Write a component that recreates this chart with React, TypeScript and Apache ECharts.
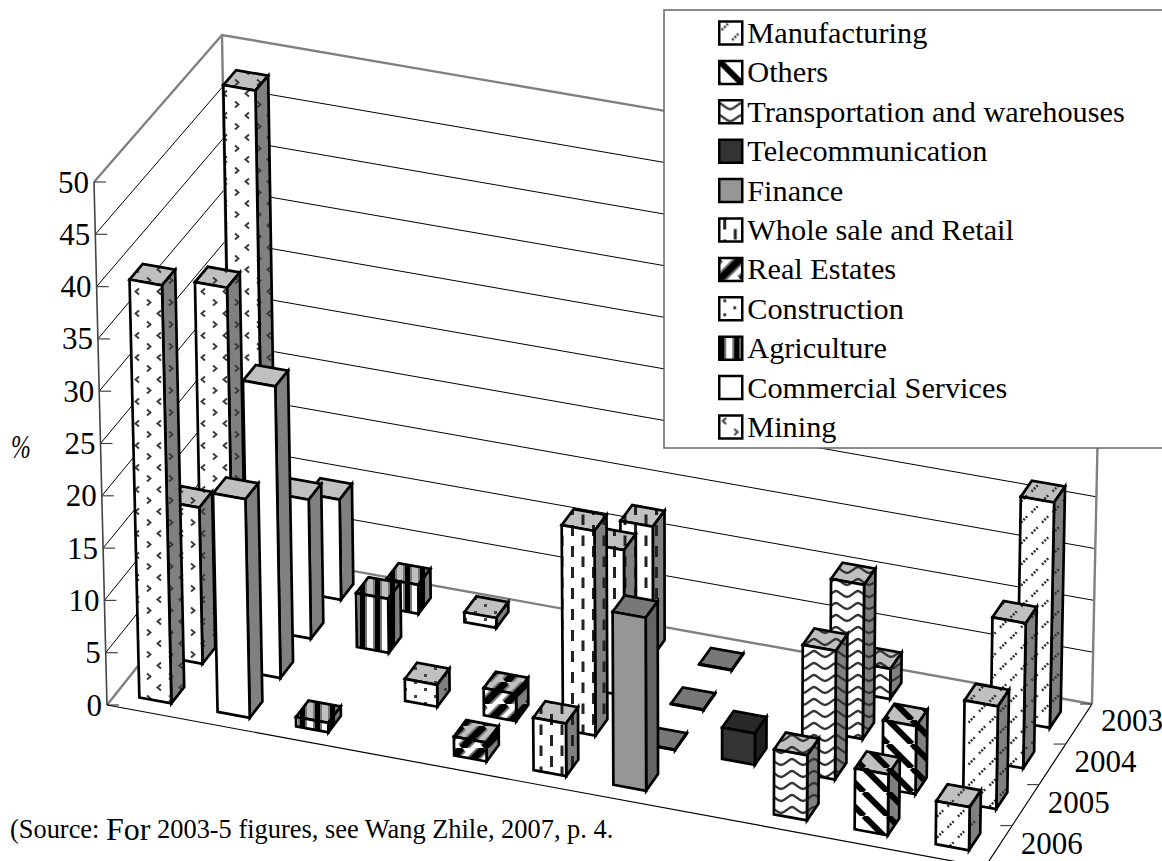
import React, { useEffect, useRef } from "react";
import * as echarts from "echarts";

const categories = ["Mining", "Commercial Services", "Agriculture", "Construction", "Real Estates", "Whole sale and Retail", "Finance", "Telecommunication", "Transportation and warehouses", "Others", "Manufacturing"];
const legendOrder = [...categories].reverse();
const years = ["2003", "2004", "2005", "2006"];
const yTicks = [0, 5, 10, 15, 20, 25, 30, 35, 40, 45, 50];

// values per year: 2003, 2004, 2005, 2006
const mining = [48, 32.5, 15, 40];
const commercial = [9.7, 13.4, 28, 20.9];
const agriculture = [2.8, 5.2, null, 0.9];
const construction = [0.95, null, 2.1, null];
const realEstates = [null, null, 2.6, 1.8];
const wholesale = [12.5, 14, 19.6, 5];
const finance = [0.05, 0.05, 0.05, 16.5];
const telecom = [null, null, 3, null];
const transportation = [2.9, 14.8, 12.3, 6.2];
const others = [null, null, 6.5, 5.8];
const manufacturing = [21.7, 13.9, 9.8, 4.1];
const seriesValues = [mining, commercial, agriculture, construction, realEstates, wholesale, finance, telecom, transportation, others, manufacturing];

const GRID = { left: 0, top: 0, width: 1000, height: 500 };
const FLOOR = [[107, 705], [985, 867], [1092, 704], [231, 549]];
const CEIL = [[94, 182], [993, 341], [1103, 186], [222, 35]];
const BAR_W = 0.41;

function homography(q: number[][]) {
  const [[x0, y0], [x1, y1], [x2, y2], [x3, y3]] = q;
  const dx1 = x1 - x2, dx2 = x3 - x2, sx = x0 - x1 + x2 - x3;
  const dy1 = y1 - y2, dy2 = y3 - y2, sy = y0 - y1 + y2 - y3;
  const den = dx1 * dy2 - dx2 * dy1;
  const g = (sx * dy2 - dx2 * sy) / den;
  const h = (dx1 * sy - sx * dy1) / den;
  const a = x1 - x0 + g * x1, b = x3 - x0 + h * x3;
  const d = y1 - y0 + g * y1, e = y3 - y0 + h * y3;
  return (u: number, v: number) => {
    const w = g * u + h * v + 1;
    return [(a * u + b * v + x0) / w, (d * u + e * v + y0) / w];
  };
}
const floorAt = homography(FLOOR);
const ceilAt = homography(CEIL);

// x = category position, val = percentage: both go through the chart's hidden axes
function project(api: any, x: number, val: number, v: number) {
  const c = api.coord([x, val]);
  const u = (c[0] - GRID.left) / GRID.width;
  const h = (GRID.top + GRID.height - c[1]) / GRID.height;
  const f = floorAt(u, v), t = ceilAt(u, v);
  return [f[0] + (t[0] - f[0]) * h, f[1] + (t[1] - f[1]) * h];
}

type Draw = (c: CanvasRenderingContext2D) => void;
function tile(w: number, h: number, bg: string, draw?: Draw) {
  const cv = document.createElement("canvas");
  cv.width = w; cv.height = h;
  const c = cv.getContext("2d")!;
  c.fillStyle = bg; c.fillRect(0, 0, w, h);
  if (draw) draw(c);
  return { image: cv, repeat: "repeat", imageWidth: w, imageHeight: h } as any;
}
const line = (c: CanvasRenderingContext2D, pts: number[][], color: string, lw: number) => {
  c.strokeStyle = color; c.lineWidth = lw; c.beginPath();
  pts.forEach((p, i) => (i ? c.lineTo(p[0], p[1]) : c.moveTo(p[0], p[1])));
  c.stroke();
};

const FRONT = "#ffffff", TOP = "#c0c0c0", SIDE = "#808080";
const drawMining: Draw = (c) => {
  line(c, [[7, 2.5], [3.5, 5.5], [7, 8.5]], "#3a3a3a", 1.9);
  line(c, [[15, 13.5], [18.5, 16.5], [15, 19.5]], "#3a3a3a", 1.9);
};
const drawAgri: Draw = (c) => {
  c.fillStyle = "#000"; c.fillRect(0, 0, 5, 15);
  c.fillStyle = "#777"; c.fillRect(5, 0, 2, 15); c.fillRect(13, 0, 2, 15);
};
const drawConstruction: Draw = (c) => {
  c.fillStyle = "#444";
  c.fillRect(4, 2, 3, 3); c.fillRect(14, 9, 3, 3);
};
const drawEstate: Draw = (c) => {
  for (const o of [-22, 0, 22]) {
    line(c, [[o, 22], [o + 22, 0]], "#777", 11);
  }
  for (const o of [-22, 0, 22]) {
    line(c, [[o, 22], [o + 22, 0]], "#000", 7);
  }
};
const drawWhole: Draw = (c) => {
  c.fillStyle = "#222";
  c.fillRect(4, 0, 3, 11); c.fillRect(14.5, 10.5, 3, 10.5);
};
const drawWave: Draw = (c) => {
  c.strokeStyle = "#333"; c.lineWidth = 2.4; c.beginPath();
  c.moveTo(0, 3); c.bezierCurveTo(3, 3, 7, 9, 11, 9); c.bezierCurveTo(15, 9, 19, 3, 22, 3);
  c.stroke();
};
const drawOthers: Draw = (c) => {
  for (const o of [-24, 0, 24]) line(c, [[o, 0], [o + 24, 24]], "#000", 6);
};
const drawManu: Draw = (c) => {
  c.setLineDash([2, 1.4]);
  line(c, [[2.5, 8.5], [9, 2]], "#333", 2.5);
  line(c, [[13, 18.5], [19.5, 12]], "#333", 2.5);
};

const SPECS: [number, number, Draw | undefined, string, string, string][] = [
  [22, 22, drawMining, FRONT, TOP, SIDE],
  [4, 4, undefined, FRONT, TOP, SIDE],
  [15, 15, drawAgri, FRONT, TOP, SIDE],
  [20, 14, drawConstruction, FRONT, TOP, SIDE],
  [22, 22, drawEstate, FRONT, TOP, SIDE],
  [21, 21, drawWhole, FRONT, TOP, SIDE],
  [4, 4, undefined, "#969696", "#787878", "#646464"],
  [4, 4, undefined, "#333333", "#292929", "#1f1f1f"],
  [22, 12, drawWave, FRONT, TOP, SIDE],
  [24, 24, drawOthers, FRONT, TOP, SIDE],
  [21, 21, drawManu, FRONT, TOP, SIDE],
];

export default function App() {
  const ref = useRef<HTMLDivElement>(null);
  useEffect(() => {
    const chart = echarts.init(ref.current!, undefined, { renderer: "svg" });
    const fills = SPECS.map(([w, h, d, fr, to, si]) => ({
      front: tile(w, h, fr, d), top: tile(w, h, to, d), side: tile(w, h, si, d),
    }));

    const barSeries = categories.map((name, ci) => ({
      type: "custom",
      name,
      coordinateSystem: "cartesian2d",
      silent: true,
      z: 3,
      clip: false,
      itemStyle: { color: fills[ci].front, borderColor: "#000", borderWidth: 2.5 },
      data: seriesValues[ci].map((v, yi) => [yi, v]).filter((d) => d[1] != null),
      renderItem: (_p: any, api: any) => {
        const yi = api.value(0), val = api.value(1);
        const x0 = ci + 0.5 - BAR_W / 2, x1 = ci + 0.5 + BAR_W / 2;
        const mid = (3 - yi + 0.5) / 4, hd = BAR_W / 8;
        const vF = mid - hd, vB = mid + hd;
        const fb = project(api, x0, 0, vF), fbr = project(api, x1, 0, vF), bbr = project(api, x1, 0, vB);
        const ft = project(api, x0, val, vF), ftr = project(api, x1, val, vF);
        const btr = project(api, x1, val, vB), btl = project(api, x0, val, vB);
        const z2 = (yi + 1) * 100 + ci * 3;
        const poly = (points: number[][], fill: any, k: number) => ({
          type: "polygon", z2: z2 + k, shape: { points },
          style: { fill, stroke: "#000", lineWidth: 2.7, lineJoin: "miter" },
        });
        return {
          type: "group",
          children: [
            poly([ft, ftr, btr, btl], fills[ci].top, 0),
            poly([fbr, bbr, btr, ftr], fills[ci].side, 1),
            poly([fb, fbr, ftr, ft], fills[ci].front, 2),
          ],
        };
      },
    }));

    const wallSeries = {
      type: "custom",
      name: "walls",
      coordinateSystem: "cartesian2d",
      silent: true,
      z: 1,
      clip: false,
      data: yTicks.map((t) => [0, t]),
      renderItem: (_p: any, api: any) => {
        const val = api.value(1);
        const a = project(api, 0, val, 0), b = project(api, 0, val, 1), c = project(api, 11, val, 1);
        const edge = val === 0 || val === 50;
        const color = edge ? "#808080" : "#000";
        const lw = edge ? 2.4 : 1;
        const children: any[] = [
          { type: "polyline", shape: { points: [a, b, c] }, style: { fill: "none", stroke: color, lineWidth: lw } },
          { type: "line", shape: { x1: a[0], y1: a[1], x2: a[0] + 12, y2: a[1] }, style: { stroke: "#444", lineWidth: 1.2 } },
          {
            type: "text",
            style: { x: a[0] - 5, y: a[1], text: String(val), fill: "#000", font: '31px "Liberation Serif"', textAlign: "right", textVerticalAlign: "middle" },
          },
        ];
        return { type: "group", children };
      },
    };

    const frameSeries = {
      type: "custom",
      name: "frame",
      coordinateSystem: "cartesian2d",
      silent: true,
      z: 1,
      clip: false,
      data: [[0, 0]],
      renderItem: (_p: any, api: any) => {
        const fl = project(api, 0, 0, 0), fr = project(api, 11, 0, 0), bl = project(api, 0, 0, 1), br = project(api, 11, 0, 1);
        const tfl = project(api, 0, 50, 0), tbl = project(api, 0, 50, 1), tbr = project(api, 11, 50, 1);
        const seg = (p: number[], q: number[], stroke: string, lineWidth: number) => ({
          type: "line", shape: { x1: p[0], y1: p[1], x2: q[0], y2: q[1] }, style: { stroke, lineWidth },
        });
        return {
          type: "group",
          children: [
            seg(bl, tbl, "#808080", 2.4),
            seg(br, tbr, "#808080", 2.4),
            seg(fl, tfl, "#444", 1.6),
            seg(fl, fr, "#000", 1.2),
            seg(fr, br, "#000", 1.2),
          ],
        };
      },
    };

    const yearSeries = {
      type: "custom",
      name: "years",
      coordinateSystem: "cartesian2d",
      silent: true,
      z: 1,
      clip: false,
      data: years.map((_y, i) => [i, 0]),
      renderItem: (_p: any, api: any) => {
        const i = api.value(0);
        const tick = project(api, 11, 0, (4 - i) / 4);
        const lab = project(api, 11, 0, (3.5 - i) / 4);
        return {
          type: "group",
          children: [
            { type: "line", shape: { x1: tick[0] - 12, y1: tick[1], x2: tick[0], y2: tick[1] }, style: { stroke: "#444", lineWidth: 1.2 } },
            {
              type: "text",
              style: { x: lab[0] + 22, y: lab[1] - 3, text: years[i], fill: "#000", font: '31px "Liberation Serif"', textAlign: "left", textVerticalAlign: "middle" },
            },
          ],
        };
      },
    };

    chart.setOption({
      animation: false,
      backgroundColor: "#fff",
      grid: { ...GRID, containLabel: false },
      xAxis: { type: "value", min: 0, max: 11, show: false },
      yAxis: { type: "value", min: 0, max: 50, interval: 5, show: false },
      title: {
        left: 5,
        top: 808,
        text: "{a|(Source: }{b|For}{a| 2003-5 figures, see Wang Zhile, 2007, p. 4.}",
        textStyle: {
          rich: {
            a: { fontFamily: "Liberation Serif", fontSize: 26.4, fontWeight: "normal", color: "#000" },
            b: { fontFamily: "Liberation Serif", fontSize: 32, fontWeight: "normal", color: "#000" },
          },
        },
      },
      legend: {
        orient: "vertical",
        left: 664,
        top: 10,
        padding: [8, 60, 6, 54],
        backgroundColor: "#fff",
        borderColor: "#666",
        borderWidth: 1.5,
        itemWidth: 23,
        itemHeight: 23,
        itemGap: 9.4,
        selectedMode: false,
        textStyle: { fontFamily: "Liberation Serif", fontSize: 30.3, color: "#000" },
        data: legendOrder.map((name) => ({
          name,
          icon: "rect",
          itemStyle: { color: fills[categories.indexOf(name)].front, borderColor: "#000", borderWidth: 2.5 },
        })),
      },
      graphic: [
        {
          type: "text",
          x: 11,
          y: 430,
          scaleX: 0.72,
          style: { text: "%", fill: "#000", font: 'italic 33px "Liberation Serif"' },
        },
      ],
      series: [wallSeries, frameSeries, yearSeries, ...barSeries],
    } as any);
    return () => chart.dispose();
  }, []);
  return <div ref={ref} style={{ position: "fixed", left: 0, top: 0, width: 1162, height: 861 }} />;
}
